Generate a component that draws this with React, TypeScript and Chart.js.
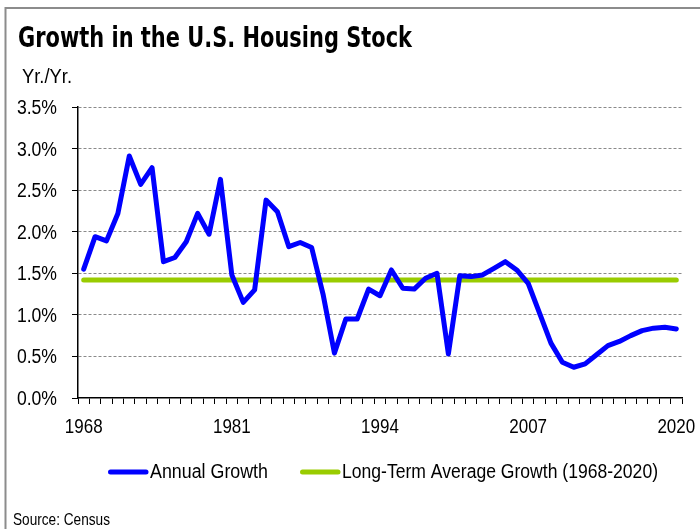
import React, { useEffect, useRef } from 'react';
import { Chart, registerables } from 'chart.js';

Chart.register(...registerables);

// ---------- data ----------
const YEARS: string[] = [
  '1968', '1969', '1970', '1971', '1972', '1973', '1974', '1975', '1976', '1977',
  '1978', '1979', '1980', '1981', '1982', '1983', '1984', '1985', '1986', '1987',
  '1988', '1989', '1990', '1991', '1992', '1993', '1994', '1995', '1996', '1997',
  '1998', '1999', '2000', '2001', '2002', '2003', '2004', '2005', '2006', '2007',
  '2008', '2009', '2010', '2011', '2012', '2013', '2014', '2015', '2016', '2017',
  '2018', '2019', '2020',
];

// Annual growth of the U.S. housing stock, % yr/yr
const ANNUAL_GROWTH: number[] = [
  1.55, 1.94, 1.89, 2.22, 2.91, 2.57, 2.77, 1.64, 1.69, 1.88,
  2.22, 1.97, 2.63, 1.48, 1.15, 1.30, 2.38, 2.24, 1.82, 1.87,
  1.81, 1.25, 0.54, 0.95, 0.95, 1.31, 1.23, 1.54, 1.32, 1.31,
  1.44, 1.50, 0.53, 1.47, 1.46, 1.48, 1.56, 1.64, 1.54, 1.38,
  1.02, 0.66, 0.43, 0.37, 0.41, 0.52, 0.63, 0.68, 0.75, 0.81,
  0.84, 0.85, 0.83,
];

// Long-term average growth 1968-2020 (constant reference line)
const LONG_TERM_AVERAGE = 1.42;
const LONG_TERM_SERIES: number[] = YEARS.map(() => LONG_TERM_AVERAGE);

const X_LABELS_SHOWN: string[] = ['1968', '1981', '1994', '2007', '2020'];
const Y_MIN = 0;
const Y_MAX = 3.5;
const Y_STEP = 0.5;

const TITLE = 'Growth in the U.S. Housing Stock';
const UNIT_LABEL = 'Yr./Yr.';
const SERIES_NAMES: string[] = ['Annual Growth', 'Long-Term Average Growth (1968-2020)'];
const SOURCE = 'Source: Census';

// ---------- styles ----------
const TITLE_FONT = '"DejaVu Sans Condensed", "Liberation Sans", sans-serif';
const TEXT_FONT = '"Liberation Sans", Arial, sans-serif';
const BLUE = '#0000ff';
const GREEN = '#99cc00';
const LABEL_SQUEEZE = 0.85;

function fitText(
  ctx: CanvasRenderingContext2D,
  text: string,
  x: number,
  baseline: number,
  font: string,
  targetWidth: number,
  color: string
) {
  ctx.save();
  ctx.font = font;
  ctx.fillStyle = color;
  ctx.textAlign = 'left';
  ctx.textBaseline = 'alphabetic';
  const w = ctx.measureText(text).width || 1;
  ctx.translate(x, baseline);
  ctx.scale(targetWidth / w, 1);
  ctx.fillText(text, 0, 0);
  ctx.restore();
}

function squeezedText(
  ctx: CanvasRenderingContext2D,
  text: string,
  x: number,
  baseline: number,
  align: 'left' | 'center' | 'right',
  font: string,
  squeeze: number
) {
  ctx.save();
  ctx.font = font;
  ctx.fillStyle = '#000';
  ctx.textAlign = align;
  ctx.textBaseline = 'alphabetic';
  ctx.translate(x, baseline);
  ctx.scale(squeeze, 1);
  ctx.fillText(text, 0, 0);
  ctx.restore();
}

const decorPlugin = {
  id: 'decor',
  afterDraw(chart: any) {
    const ctx: CanvasRenderingContext2D = chart.ctx;
    // frame
    ctx.save();
    ctx.strokeStyle = '#8c8c8c';
    ctx.lineWidth = 2;
    ctx.beginPath();
    ctx.moveTo(5.5, 529);
    ctx.lineTo(5.5, 8);
    ctx.lineTo(700, 8);
    ctx.stroke();
    ctx.restore();

    // axis tick labels, positioned by the chart's scales
    const xs = chart.scales.x;
    const ys = chart.scales.y;
    const labelFont = `20px ${TEXT_FONT}`;
    xs.ticks.forEach((_t: any, i: number) => {
      const lab = YEARS[i];
      if (!X_LABELS_SHOWN.includes(lab)) return;
      squeezedText(ctx, lab, xs.getPixelForTick(i), xs.top + 35, 'center', labelFont, LABEL_SQUEEZE);
    });
    ys.ticks.forEach((t: any) => {
      const y = ys.getPixelForValue(t.value);
      squeezedText(ctx, Number(t.value).toFixed(1) + '%', ys.right - 21, y + 7, 'right', labelFont, 0.88);
    });

    fitText(ctx, TITLE, 18, 47, `bold 28px ${TITLE_FONT}`, 394, '#000');
    fitText(ctx, UNIT_LABEL, 22, 83, `20px ${TEXT_FONT}`, 50, '#000');

    // legend
    const drawKey = (x1: number, x2: number, y: number, color: string) => {
      ctx.save();
      ctx.strokeStyle = color;
      ctx.lineWidth = 5;
      ctx.lineCap = 'round';
      ctx.beginPath();
      ctx.moveTo(x1, y);
      ctx.lineTo(x2, y);
      ctx.stroke();
      ctx.restore();
    };
    drawKey(110.5, 146, 472, BLUE);
    fitText(ctx, SERIES_NAMES[0], 150, 478, `20px ${TEXT_FONT}`, 118, '#000');
    drawKey(302.5, 338, 472, GREEN);
    fitText(ctx, SERIES_NAMES[1], 342, 478, `20px ${TEXT_FONT}`, 316, '#000');

    fitText(ctx, SOURCE, 13, 525, `17px ${TEXT_FONT}`, 97, '#000');
  },
};

export default function App() {
  const canvasRef = useRef<HTMLCanvasElement | null>(null);

  useEffect(() => {
    const canvas = canvasRef.current;
    if (!canvas) return;
    const chart = new Chart(canvas, {
      type: 'line',
      data: {
        labels: YEARS,
        datasets: [
          {
            label: SERIES_NAMES[0],
            data: ANNUAL_GROWTH,
            borderColor: BLUE,
            backgroundColor: BLUE,
            borderWidth: 5,
            pointRadius: 0,
            tension: 0,
            borderJoinStyle: 'round',
            borderCapStyle: 'round',
          },
          {
            label: SERIES_NAMES[1],
            data: LONG_TERM_SERIES,
            borderColor: GREEN,
            backgroundColor: GREEN,
            borderWidth: 5,
            pointRadius: 0,
            tension: 0,
            borderCapStyle: 'round',
          },
        ],
      },
      options: {
        responsive: false,
        animation: false,
        events: [],
        layout: { padding: { top: 107, right: 18, bottom: 91, left: 0 } },
        plugins: {
          legend: { display: false },
          title: { display: false },
          tooltip: { enabled: false },
        },
        scales: {
          x: {
            type: 'category',
            offset: true,
            grid: {
              offset: true,
              drawOnChartArea: false,
              tickLength: 6,
              tickColor: '#000',
              tickWidth: 1,
            },
            border: { color: '#000', width: 1.5 },
            ticks: {
              display: false,
              autoSkip: false,
              maxRotation: 0,
              minRotation: 0,
            },
            afterFit: (s: any) => {
              s.height = 40;
            },
          },
          y: {
            min: Y_MIN,
            max: Y_MAX,
            ticks: {
              display: false,
              stepSize: Y_STEP,
            },
            grid: {
              color: (c: any) => (c.tick && c.tick.value === 0 ? 'rgba(0,0,0,0)' : '#8a8a8a'),
              lineWidth: 1,
              tickColor: '#000',
              tickLength: 6,
              tickBorderDash: [],
            },
            border: { color: '#000', width: 1.5, dash: [3, 2] },
            afterFit: (s: any) => {
              s.width = 78;
            },
          },
        },
      },
      plugins: [decorPlugin],
    } as any);
    return () => chart.destroy();
  }, []);

  return (
    <canvas
      ref={canvasRef}
      width={700}
      height={529}
      style={{ position: 'absolute', left: 0, top: 0, width: 700, height: 529, background: '#fff' }}
    />
  );
}
